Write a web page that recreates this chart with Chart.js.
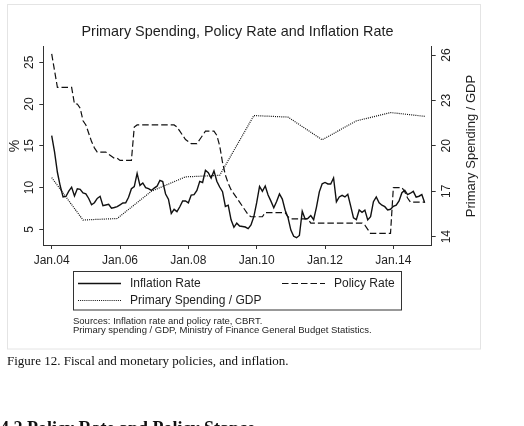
<!DOCTYPE html>
<html>
<head>
<meta charset="utf-8">
<script src="https://cdn.jsdelivr.net/npm/chart.js@4.4.1/dist/chart.umd.min.js"></script>
<style>
    html, body { margin: 0; padding: 0; background: #fff; }
    body { width: 524px; height: 426px; position: relative; overflow: hidden; }
    #wrap { position: absolute; left: 0; top: 0; width: 524px; height: 426px; }
    .caption { position: absolute; left: 7px; top: 354px; font: 13px/13px "Liberation Serif", serif; color: #111; white-space: nowrap; }
    .heading { position: absolute; left: 0; top: 419px; font: bold 18px/18px "Liberation Serif", serif; color: #111; white-space: nowrap; }
</style>
</head>
<body>
<div id="wrap"><canvas id="lineChart" width="524" height="426"></canvas></div>
<div class="caption">Figure 12. Fiscal and monetary policies, and inflation.</div>
<div class="heading">4.2 Policy Rate and Policy Stance</div>
<script>
// tháng tính từ Jan.04 (0 = Jan 2004)
const tickMonths = [0, 24, 48, 72, 96, 120];
const tickLabels = ['Jan.04', 'Jan.06', 'Jan.08', 'Jan.10', 'Jan.12', 'Jan.14'];
const leftTicks = [5, 10, 15, 20, 25];
const rightTicks = [14, 17, 20, 23, 26];

// lạm phát hàng tháng, 2004-2014
const inflationRate = [
    16.22, 14.28, 11.83, 10.18, 8.88, 8.93, 9.57, 10.04, 9.00, 9.86, 9.79, 9.35,
    9.24, 8.69, 7.94, 8.18, 8.70, 8.95, 7.82, 7.91, 7.99, 7.52, 7.61, 7.72,
    7.93, 8.15, 8.16, 8.83, 9.86, 10.12, 11.69, 10.26, 10.55, 9.98, 9.86, 9.65,
    9.93, 10.16, 10.86, 10.72, 9.23, 8.60, 6.90, 7.39, 7.12, 7.70, 8.40, 8.39,
    8.17, 9.10, 9.15, 9.66, 10.74, 10.61, 12.06, 11.77, 11.13, 11.99, 10.76, 10.06,
    9.50, 7.73, 7.89, 6.13, 5.24, 5.73, 5.39, 5.33, 5.27, 5.08, 5.53, 6.53,
    8.19, 10.13, 9.56, 10.19, 9.10, 8.37, 7.58, 8.33, 9.24, 8.62, 7.29, 6.40,
    4.90, 4.16, 3.99, 4.26, 7.17, 6.24, 6.31, 6.65, 6.15, 7.66, 9.48, 10.45,
    10.61, 10.43, 10.43, 11.14, 8.28, 8.87, 9.07, 8.88, 9.19, 7.80, 6.37, 6.16,
    7.31, 7.03, 7.29, 6.13, 6.51, 8.30, 8.88, 8.17, 7.88, 7.71, 7.32, 7.40,
    7.75, 7.89, 8.39, 9.38, 9.66, 9.16, 9.32, 9.54, 8.86, 8.96, 9.15, 8.17
];

// lãi suất chính sách hàng tháng
const policyRate = [
    26, 24, 22, 22, 22, 22, 22, 22, 20, 20, 19.5, 18,
    17.5, 16.5, 15.5, 14.75, 14.25, 14.25, 14.25, 14.25, 14, 13.75, 13.5, 13.5,
    13.25, 13.25, 13.25, 13.25, 13.25, 17.25, 17.5, 17.5, 17.5, 17.5, 17.5, 17.5,
    17.5, 17.5, 17.5, 17.5, 17.5, 17.5, 17.5, 17.5, 17.25, 16.75, 16.25, 15.75,
    15.5, 15.25, 15.25, 15.25, 15.75, 16.25, 16.75, 16.75, 16.75, 16.75, 16.25, 15,
    13, 11.5, 10.5, 9.75, 9.25, 8.75, 8.25, 7.75, 7.25, 6.75, 6.5, 6.5,
    6.5, 6.5, 6.5, 7, 7, 7, 7, 7, 7, 7, 7, 6.5,
    6.25, 6.25, 6.25, 6.25, 6.25, 6.25, 6.25, 5.75, 5.75, 5.75, 5.75, 5.75,
    5.75, 5.75, 5.75, 5.75, 5.75, 5.75, 5.75, 5.75, 5.75, 5.75, 5.75, 5.75,
    5.75, 5.75, 5.5, 5, 4.5, 4.5, 4.5, 4.5, 4.5, 4.5, 4.5, 4.5,
    10, 10, 10, 10, 9.5, 8.75, 8.25, 8.25, 8.25, 8.25, 8.25, 8.25
];

// chi tiêu sơ cấp / GDP (trục phải), theo năm
const spendingMonths = [0, 11, 23, 35, 47, 59, 71, 83, 95, 107, 119, 131];
const spendingGdp = [17.9, 15.1, 15.2, 17.0, 17.95, 18.05, 22.0, 21.9, 20.4, 21.65, 22.2, 21.95];

const axisColor = '#333333';
const textColor = '#1e1e1e';
const sansFont = '"Liberation Sans", Arial, sans-serif';

const toPoints = (values) => values.map((v, i) => ({ x: i, y: v }));

const figureDecor = {
    id: 'figureDecor',
    beforeDraw(chart) {
        const ctx = chart.ctx;
        ctx.save();
        ctx.strokeStyle = '#e4e4e4';
        ctx.lineWidth = 1;
        ctx.strokeRect(7.5, 4.5, 473, 344.5);
        ctx.restore();
    },
    afterDraw(chart) {
        const ctx = chart.ctx;
        const ds = chart.data.datasets;
        ctx.save();

        // tiêu đề trục phải, xoay đọc từ dưới lên
        const area = chart.chartArea;
        ctx.fillStyle = textColor;
        ctx.font = '13px ' + sansFont;
        ctx.textAlign = 'center';
        ctx.textBaseline = 'middle';
        ctx.translate(471.5, (area.top + area.bottom) / 2);
        ctx.rotate(-Math.PI / 2);
        ctx.fillText('Primary Spending / GDP', 0, 0);
        ctx.setTransform(1, 0, 0, 1, 0, 0);

        // khung chú thích
        ctx.strokeStyle = axisColor;
        ctx.lineWidth = 1;
        ctx.strokeRect(73.5, 271.5, 328, 38.5);

        const items = [
            { d: ds[0], x: 78, y: 283.5 },
            { d: ds[1], x: 282, y: 283.5 },
            { d: ds[2], x: 78, y: 300.5 }
        ];
        items.forEach(it => {
            ctx.beginPath();
            ctx.setLineDash(it.d.borderDash || []);
            ctx.lineWidth = it.d.borderWidth;
            ctx.strokeStyle = it.d.borderColor;
            ctx.moveTo(it.x, it.y);
            ctx.lineTo(it.x + 43, it.y);
            ctx.stroke();
            ctx.setLineDash([]);
            ctx.fillStyle = textColor;
            ctx.font = '12px ' + sansFont;
            ctx.textAlign = 'left';
            ctx.textBaseline = 'middle';
            ctx.fillText(it.d.label, it.x + 52, it.y);
        });

        // nguồn số liệu
        ctx.font = '9.5px ' + sansFont;
        ctx.fillText('Sources: Inflation rate and policy rate, CBRT.', 73, 321.7);
        ctx.fillText('Primary spending / GDP, Ministry of Finance General Budget Statistics.', 73, 330.7);
        ctx.restore();
    }
};

const ctx = document.getElementById('lineChart').getContext('2d');

const lineChart = new Chart(ctx, {
    type: 'line',
    data: {
        datasets: [
            {
                label: 'Inflation Rate',
                data: toPoints(inflationRate),
                borderColor: '#111111',
                borderWidth: 1.4,
                yAxisID: 'y'
            },
            {
                label: 'Policy Rate',
                data: toPoints(policyRate),
                borderColor: '#111111',
                borderWidth: 1.2,
                borderDash: [6.5, 3],
                yAxisID: 'y'
            },
            {
                label: 'Primary Spending / GDP',
                data: spendingMonths.map((m, i) => ({ x: m, y: spendingGdp[i] })),
                borderColor: '#111111',
                borderWidth: 1.2,
                borderDash: [1, 1.1],
                yAxisID: 'y1'
            }
        ]
    },
    options: {
        responsive: false,
        animation: false,
        devicePixelRatio: 1,
        layout: { padding: { left: 0, right: 42.3, top: 0, bottom: 157 } },
        elements: { point: { radius: 0 }, line: { tension: 0 } },
        plugins: {
            legend: { display: false },
            tooltip: { enabled: false },
            title: {
                display: true,
                fullSize: false,
                text: 'Primary Spending, Policy Rate and Inflation Rate',
                color: textColor,
                font: { family: sansFont, size: 14.4, weight: 'normal' },
                padding: { top: 23, bottom: 6.7 }
            }
        },
        scales: {
            x: {
                type: 'linear',
                min: -2.95,
                max: 133.47,
                afterBuildTicks: s => { s.ticks = tickMonths.map(v => ({ value: v })); },
                afterFit: s => { s.height = 24; },
                grid: { drawOnChartArea: false, color: axisColor, tickLength: 4 },
                border: { display: true, color: axisColor },
                ticks: {
                    color: textColor,
                    font: { family: sansFont, size: 12 },
                    padding: 4,
                    maxRotation: 0,
                    callback: v => tickLabels[tickMonths.indexOf(v)]
                }
            },
            y: {
                type: 'linear',
                position: 'left',
                min: 3.12,
                max: 26.83,
                afterBuildTicks: s => { s.ticks = leftTicks.map(v => ({ value: v })); },
                afterFit: s => { s.width = 43.3; },
                grid: { drawOnChartArea: false, color: axisColor, tickLength: 4 },
                border: { display: true, color: axisColor },
                title: {
                    display: true,
                    text: '%',
                    color: textColor,
                    font: { family: sansFont, size: 14 },
                    padding: { top: 7, bottom: 0 }
                },
                ticks: {
                    color: textColor,
                    font: { family: sansFont, size: 12 },
                    padding: 2.6,
                    minRotation: 90,
                    maxRotation: 90,
                    crossAlign: 'center'
                }
            },
            y1: {
                type: 'linear',
                position: 'right',
                min: 13.45,
                max: 26.53,
                afterBuildTicks: s => { s.ticks = rightTicks.map(v => ({ value: v })); },
                afterFit: s => { s.width = 50; },
                grid: { drawOnChartArea: false, color: axisColor, tickLength: 4 },
                border: { display: true, color: axisColor },
                ticks: {
                    color: textColor,
                    font: { family: sansFont, size: 12 },
                    padding: 4.3,
                    minRotation: 90,
                    maxRotation: 90,
                    crossAlign: 'center'
                }
            }
        }
    },
    plugins: [figureDecor]
});
</script>
</body>
</html>
